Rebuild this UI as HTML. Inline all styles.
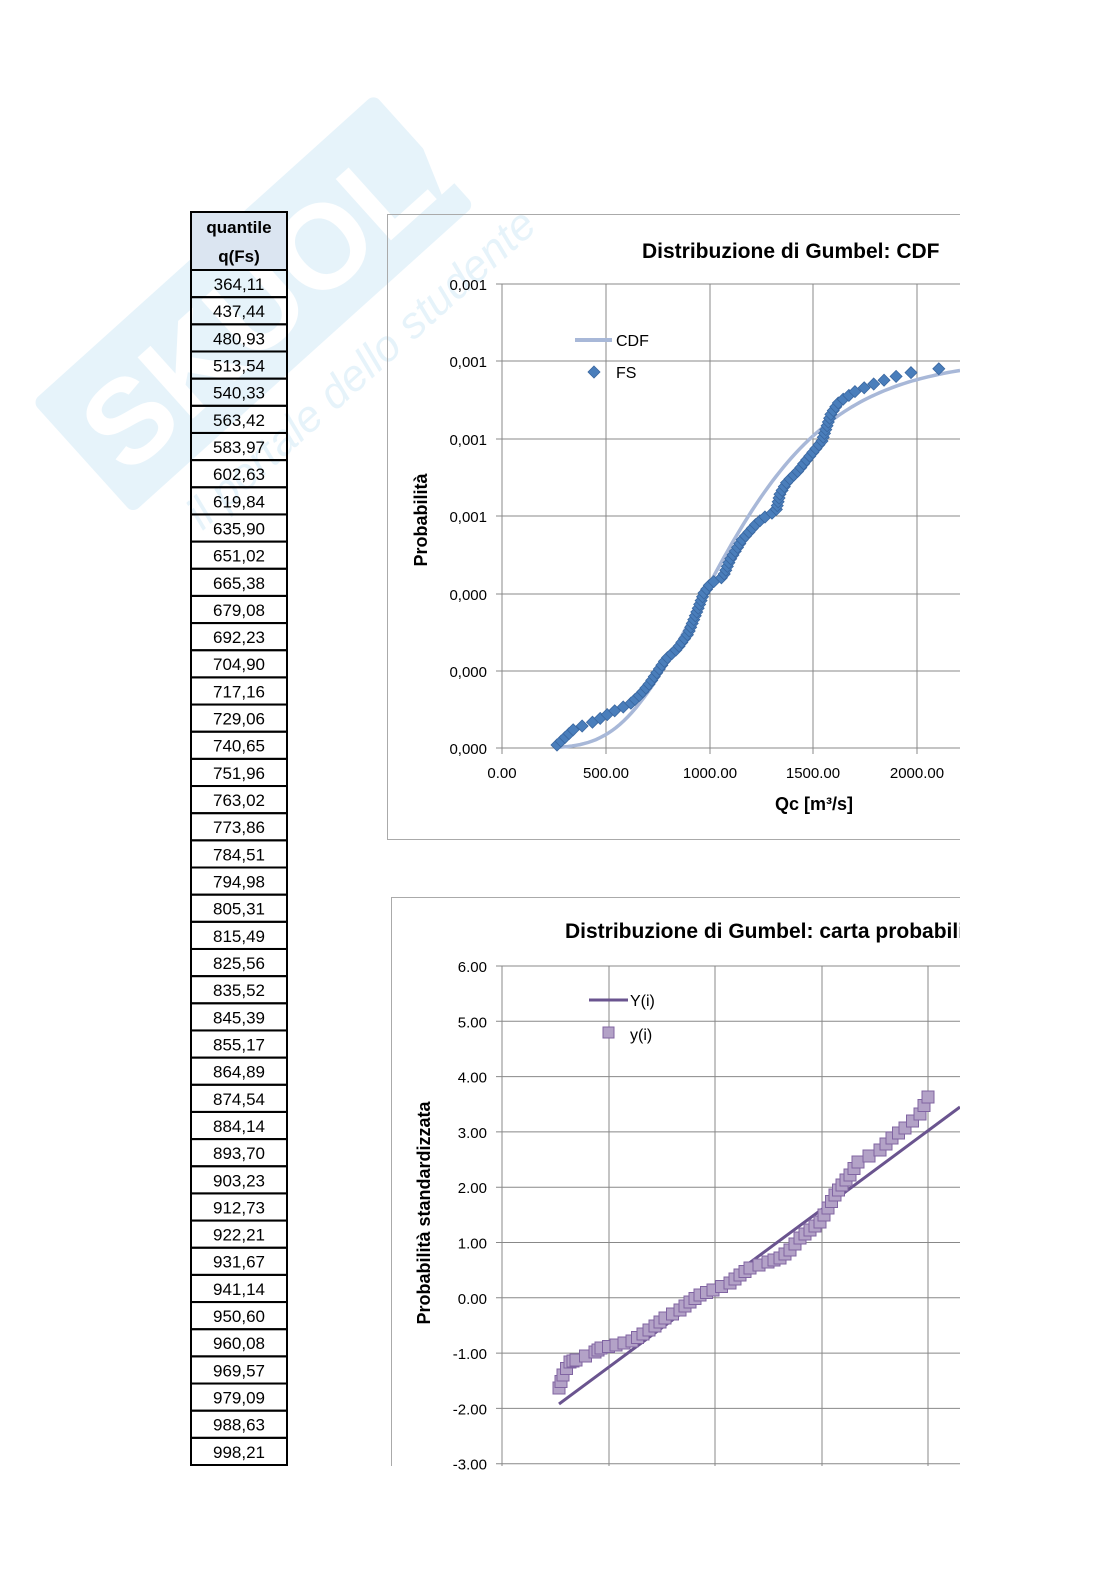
<!DOCTYPE html>
<html><head><meta charset="utf-8"><style>
body{margin:0;background:#fff;width:1116px;height:1579px;overflow:hidden}
svg{display:block}
text{font-family:"Liberation Sans",sans-serif}
</style></head><body>
<svg id="s" width="1116" height="1579" viewBox="0 0 1116 1579" xmlns="http://www.w3.org/2000/svg">
<g opacity="0.12" transform="rotate(-42 250 300)">
<rect x="20" y="230" width="460" height="150" fill="#3aa0d8" rx="8"/>
<text x="40" y="350" font-size="120" font-weight="bold" fill="#fff">SKUOLA</text>
<text x="60" y="440" font-size="44" fill="#3aa0d8" font-style="italic">il portale dello studente</text>
</g>
<g id="tbl"></g>
<rect x="387.5" y="214.5" width="580" height="625" fill="none" stroke="#aaa"/>
<g id="c1" stroke="#888" stroke-width="1"></g>
<text x="642" y="258" font-size="21" font-weight="bold" fill="#000">Distribuzione di Gumbel: CDF</text>
<text transform="translate(427 520) rotate(-90)" font-size="18" font-weight="bold" text-anchor="middle">Probabilità</text>
<text x="814" y="810" font-size="18" font-weight="bold" text-anchor="middle">Qc [m³/s]</text>
<line x1="575" y1="340" x2="612" y2="340" stroke="#a8b8d8" stroke-width="4"/>
<text x="616" y="346" font-size="16">CDF</text>
<text x="616" y="378" font-size="16">FS</text>
<rect x="391.5" y="897.5" width="580" height="700" fill="none" stroke="#aaa"/>
<g id="c2" stroke="#888" stroke-width="1"></g>
<text x="565" y="938" font-size="21" font-weight="bold">Distribuzione di Gumbel: carta probabilistica</text>
<text transform="translate(430 1213) rotate(-90)" font-size="18" font-weight="bold" text-anchor="middle">Probabilità standardizzata</text>
<line x1="589" y1="1000" x2="628" y2="1000" stroke="#6a548f" stroke-width="3"/>
<text x="630" y="1006" font-size="16">Y(i)</text>
<text x="630" y="1040" font-size="16">y(i)</text>
<rect x="603" y="1027" width="11" height="11" fill="#b3a2c7" stroke="#8064a2"/>
<g id="pts"></g>
<rect x="960" y="0" width="156" height="1579" fill="#fff"/>
<rect x="0" y="1466" width="1116" height="113" fill="#fff"/>
</svg>
<script>
var NS="http://www.w3.org/2000/svg",s=document.getElementById('s');
function el(p,t,a,txt){var e=document.createElementNS(NS,t);for(var k in a)e.setAttribute(k,a[k]);if(txt!==undefined)e.textContent=txt;p.appendChild(e);return e;}
var tb=document.getElementById('tbl');
var v="364,11 437,44 480,93 513,54 540,33 563,42 583,97 602,63 619,84 635,90 651,02 665,38 679,08 692,23 704,90 717,16 729,06 740,65 751,96 763,02 773,86 784,51 794,98 805,31 815,49 825,56 835,52 845,39 855,17 864,89 874,54 884,14 893,70 903,23 912,73 922,21 931,67 941,14 950,60 960,08 969,57 979,09 988,63 998,21".split(" ");
el(tb,'rect',{x:191,y:212,width:96,height:58,fill:'#dbe5f1',stroke:'#000','stroke-width':2});
el(tb,'text',{x:239,y:233,'font-size':17,'font-weight':'bold','text-anchor':'middle'},'quantile');
el(tb,'text',{x:239,y:262,'font-size':17,'font-weight':'bold','text-anchor':'middle'},'q(Fs)');
var rh=(1465-270)/44;
for(var i=0;i<44;i++){var y=270+i*rh;el(tb,'rect',{x:191,y:y,width:96,height:rh,fill:'none',stroke:'#000','stroke-width':2});
el(tb,'text',{x:239,y:y+20,'font-size':17,'text-anchor':'middle'},v[i]);}
var c1=document.getElementById('c1');
var gy=[284,361,439,516,594,671,748],gl=['0,001','0,001','0,001','0,001','0,000','0,000','0,000'];
gy.forEach(function(y,i){el(c1,'line',{x1:496,y1:y,x2:960,y2:y});el(s,'text',{x:487,y:y+6,'font-size':15,'text-anchor':'end'},gl[i]);});
[502,606,710,813,917].forEach(function(x,i){el(c1,'line',{x1:x,y1:284,x2:x,y2:754});el(s,'text',{x:x,y:778,'font-size':15,'text-anchor':'middle'},['0.00','500.00','1000.00','1500.00','2000.00'][i]);});
var d='';for(var px=560;px<=960;px+=4){var x=(px-502)/0.2073;var F=Math.exp(-Math.exp(-(x-948)/368));var py=748-F*390;d+=(d?'L':'M')+px+' '+py.toFixed(1);}
var pts=document.getElementById('pts');
el(pts,'path',{d:d,fill:'none',stroke:'#a8b8d8','stroke-width':3.5});
function dia(x,y){el(pts,'path',{d:'M'+x+' '+(y-6)+'L'+(x+6)+' '+y+'L'+x+' '+(y+6)+'L'+(x-6)+' '+y+'Z',fill:'#4a7ebb',stroke:'#3a67a0','stroke-width':0.8});}
dia(594,372);
var k1=[[557,745],[574,729],[593,722],[601,718],[612,712],[630,704],[641,694],[650,683],[666,659],[677,649],[688,634],[696,614],[704,593],[711,583],[723,577],[730,560],[742,540],[757,523],[765,517],[776,511],[780,494],[787,482],[799,470],[805,462],[814,451],[822,441],[826,429],[831,414],[839,402],[854,392],[871,385],[890,378],[909,373],[919,371],[955,367]];
function xat(k,y){for(var j=0;j<k.length-1;j++){if(y<=k[j][1]&&y>=k[j+1][1]){var f=(k[j][1]-y)/(k[j][1]-k[j+1][1]||1);return k[j][0]+(k[j+1][0]-k[j][0])*f;}}return k[k.length-1][0];}
for(var y=745;y>=367;y-=3.8){dia(xat(k1,y),y);}
var c2=document.getElementById('c2');
var yl=['6.00','5.00','4.00','3.00','2.00','1.00','0.00','-1.00','-2.00','-3.00'];
for(var i=0;i<10;i++){var y=966+i*55.3;el(c2,'line',{x1:496,y1:y,x2:960,y2:y});el(s,'text',{x:487,y:y+6,'font-size':15,'text-anchor':'end'},yl[i]);}
[502,609,715,822,928].forEach(function(x){el(c2,'line',{x1:x,y1:966,x2:x,y2:1470});});
el(pts,'line',{x1:559,y1:1404,x2:960,y2:1107,stroke:'#6a548f','stroke-width':3});
function sq(x,y){el(pts,'rect',{x:x-6,y:y-6,width:12,height:12,fill:'#b3a2c7',stroke:'#8064a2','stroke-width':1});}
var k2=[[559,1388],[563,1375],[570,1362],[576,1360],[595,1352],[601,1348],[616,1345],[632,1341],[643,1334],[655,1326],[665,1318],[680,1310],[690,1302],[700,1295],[713,1290],[730,1283],[740,1275],[750,1268],[768,1262],[780,1258],[790,1250],[800,1238],[810,1230],[820,1222],[828,1208],[835,1195],[842,1185],[850,1175],[858,1162],[880,1150],[892,1138],[905,1128],[920,1114],[928,1097]];
for(var j=0;j<k2.length-1;j++){for(var t=0;t<2;t++){var f=t/2;sq(k2[j][0]+(k2[j+1][0]-k2[j][0])*f,k2[j][1]+(k2[j+1][1]-k2[j][1])*f);}}
sq(928,1097);
</script>
</body></html>
